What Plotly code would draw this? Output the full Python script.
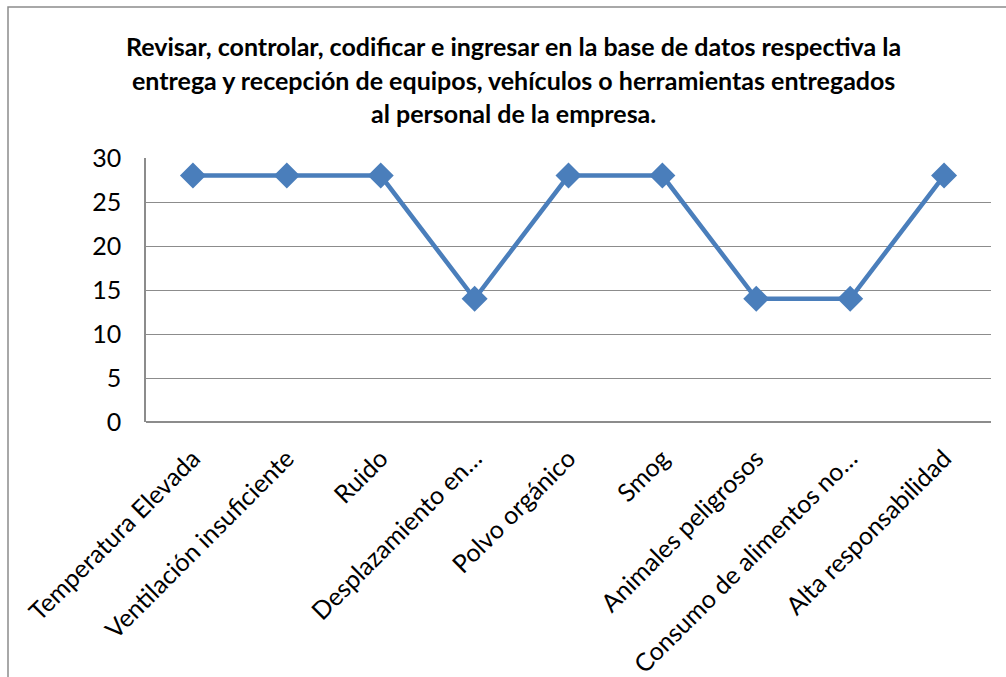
import plotly.graph_objects as go

categorias = [
    "Temperatura Elevada",
    "Ventilación insuficiente",
    "Ruido",
    "Desplazamiento en…",
    "Polvo orgánico",
    "Smog",
    "Animales peligrosos",
    "Consumo de alimentos no…",
    "Alta responsabilidad",
]
valores = [28, 28, 28, 14, 28, 28, 14, 14, 28]
y_ticks = [0, 5, 10, 15, 20, 25, 30]

titulo_lineas = [
    "Revisar, controlar, codificar e ingresar en la base de datos respectiva la",
    "entrega y recepción de equipos, vehículos o herramientas entregados",
    "al personal de la empresa.",
]

font_family = "Lato, Open Sans, Liberation Sans, sans-serif"

fig = go.Figure(
    go.Scatter(
        x=categorias,
        y=valores,
        mode="lines+markers",
        line=dict(color="#4A7EBB", width=4.5),
        marker=dict(symbol="diamond", size=20, color="#4A7EBB"),
        showlegend=False,
    )
)

# title drawn as three centred lines; pixel rows converted to paper
# coordinates (plot area spans y=158..422, x=146..991)
title_y = [46, 80, 113]
annotations = [
    dict(
        text=f"<b>{linea}</b>",
        xref="paper",
        yref="paper",
        x=(513 - 146) / 845,
        y=(422 - yy) / 264,
        xanchor="center",
        yanchor="middle",
        showarrow=False,
        font=dict(size=25, family=font_family, color="black"),
    )
    for linea, yy in zip(titulo_lineas, title_y)
]

fig.update_layout(
    width=1006,
    height=677,
    margin=dict(l=146, r=15, t=158, b=255, autoexpand=False),
    paper_bgcolor="white",
    plot_bgcolor="white",
    font=dict(family=font_family, color="black"),
    annotations=annotations,
    shapes=[
        dict(
            type="rect",
            xref="paper",
            yref="paper",
            x0=(8 - 146) / 845,
            x1=1.05,
            y0=-1.5,
            y1=(422 - 7) / 264,
            line=dict(color="#8C8C8C", width=1.5),
            fillcolor="rgba(0,0,0,0)",
            layer="below",
        )
    ],
)

fig.update_xaxes(
    type="category",
    tickangle=-45,
    tickfont=dict(size=25, family=font_family),
    showgrid=False,
    showline=False,
    ticks="",
    ticklabelstandoff=16,
    automargin=False,
    range=[-0.5, len(categorias) - 0.5],
)

fig.update_yaxes(
    range=[0, 30],
    tickvals=y_ticks,
    tickfont=dict(size=25, family=font_family),
    showgrid=True,
    gridcolor="#8C8C8C",
    gridwidth=1,
    showline=True,
    linecolor="#8C8C8C",
    linewidth=1.5,
    ticks="",
    ticklabelstandoff=18,
    automargin=False,
    zeroline=True,
    zerolinecolor="#8C8C8C",
    zerolinewidth=1.5,
)

fig.write_html("out.html")
